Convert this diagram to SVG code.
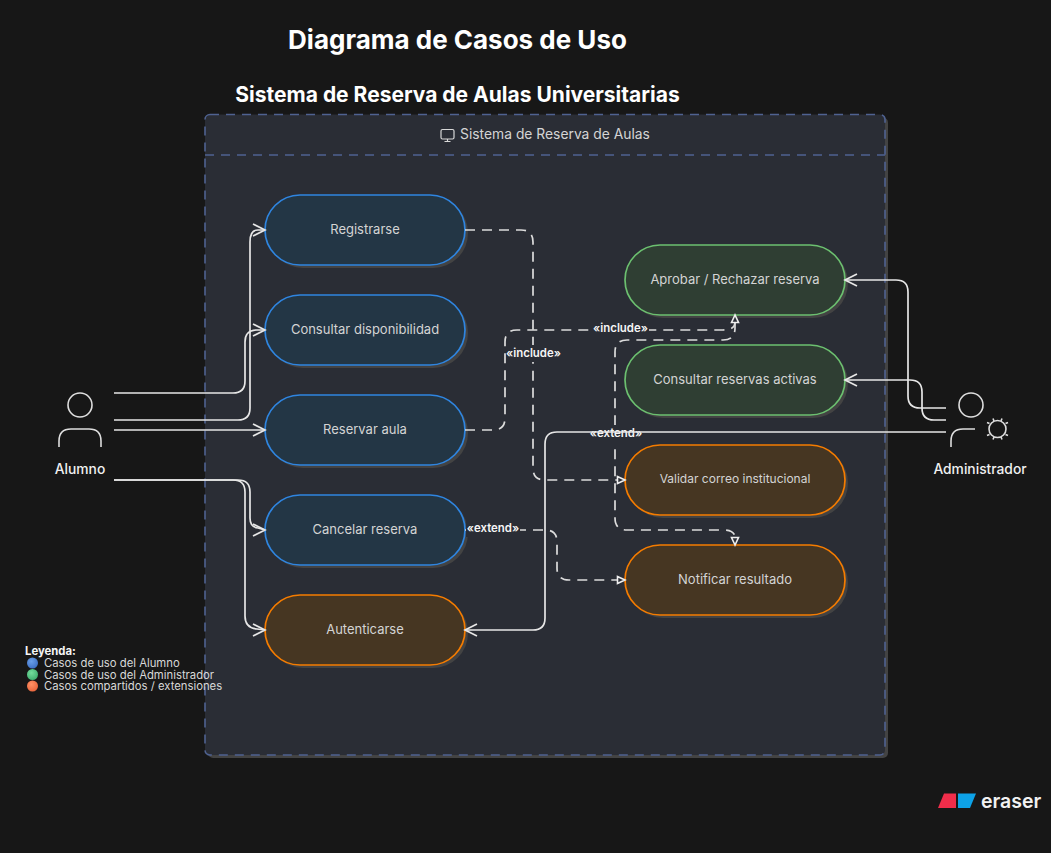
<svg xmlns="http://www.w3.org/2000/svg" width="1051" height="853" viewBox="0 0 1051 853">
<style>
text{font-family:Inter,"Noto Sans","Liberation Sans",sans-serif}
.uc{stroke-width:1.7}
.shadow{fill:#434343}
.blue{fill:#233645;stroke:#2f85e0}
.green{fill:#2f3e33;stroke:#6cc070}
.orange{fill:#463622;stroke:#f57c00}
.t{fill:#d4d4d4;font-size:13px;text-anchor:middle}
.e{fill:none;stroke:#e6e6e6;stroke-width:1.7;stroke-linejoin:round}
.d{fill:none;stroke:#dcdcdc;stroke-width:1.7;stroke-dasharray:10 7}
.lb{fill:#f5f5f5;font-size:11.400px;font-weight:600;text-anchor:middle}
.bg{fill:#2a2d35}
.a{fill:none;stroke:#e6e6e6;stroke-width:1.7}
.tri{fill:#2a2d35;stroke:#eeeeee;stroke-width:1.6}
.act{fill:none;stroke:#dedede;stroke-width:1.6}
.an{fill:#f0f0f0;font-size:13.800px;font-weight:500;text-anchor:middle}
.leg{fill:#d8d8d8;font-size:11.300px}
</style>
<defs>
<radialGradient id="gb" cx=".4" cy=".35" r=".7"><stop offset="0" stop-color="#6a9fe8"/><stop offset="1" stop-color="#3c6fc4"/></radialGradient>
<radialGradient id="gg" cx=".4" cy=".35" r=".7"><stop offset="0" stop-color="#74dc9c"/><stop offset="1" stop-color="#3fae6e"/></radialGradient>
<radialGradient id="go" cx=".4" cy=".35" r=".7"><stop offset="0" stop-color="#ff9166"/><stop offset="1" stop-color="#e8643a"/></radialGradient>
</defs>
<rect width="1051" height="853" fill="#171717"/>
<text x="457.500" y="48.500" text-anchor="middle" font-size="26" font-weight="700" fill="#ffffff">Diagrama de Casos de Uso</text>
<text x="457.500" y="102" text-anchor="middle" font-size="21" font-weight="700" fill="#ffffff">Sistema de Reserva de Aulas Universitarias</text>
<g id="sistema">
<rect x="208" y="117.500" width="680" height="640.500" rx="5" fill="#434343"/>
<rect x="205" y="114.500" width="680" height="640.500" rx="5" fill="#2a2d35" stroke="#4f6291" stroke-width="1.600" stroke-dasharray="9 7"/>
<line x1="205" y1="155" x2="885" y2="155" stroke="#4f6291" stroke-width="1.600" stroke-dasharray="9 7"/>
<g fill="none" stroke="#d8d8d8" stroke-width="1.200"><rect x="441" y="129.500" width="13" height="9.500" rx="1.500"/><path d="M447.500 139v2.500M444.500 141.500h6"/></g>
<text x="555" y="139" text-anchor="middle" font-size="13.850" fill="#d4d4d4">Sistema de Reserva de Aulas</text>
</g>
<g id="uc-registrarse"><rect class="shadow" x="268" y="198" width="200" height="70" rx="35"/><rect class="blue uc" x="265" y="195" width="200" height="70" rx="35"/><text class="t" x="365" y="233.700">Registrarse</text></g>
<g id="uc-consultar"><rect class="shadow" x="268" y="298" width="200" height="70" rx="35"/><rect class="blue uc" x="265" y="295" width="200" height="70" rx="35"/><text class="t" x="365" y="333.700">Consultar disponibilidad</text></g>
<g id="uc-reservar"><rect class="shadow" x="268" y="398" width="200" height="70" rx="35"/><rect class="blue uc" x="265" y="395" width="200" height="70" rx="35"/><text class="t" x="365" y="433.700">Reservar aula</text></g>
<g id="uc-cancelar"><rect class="shadow" x="268" y="498" width="200" height="70" rx="35"/><rect class="blue uc" x="265" y="495" width="200" height="70" rx="35"/><text class="t" x="365" y="533.700">Cancelar reserva</text></g>
<g id="uc-autenticarse"><rect class="shadow" x="268" y="598" width="200" height="70" rx="35"/><rect class="orange uc" x="265" y="595" width="200" height="70" rx="35"/><text class="t" x="365" y="633.700">Autenticarse</text></g>
<g id="uc-aprobar"><rect class="shadow" x="628" y="248" width="220" height="70" rx="35"/><rect class="green uc" x="625" y="245" width="220" height="70" rx="35"/><text class="t" x="735" y="283.700">Aprobar / Rechazar reserva</text></g>
<g id="uc-activas"><rect class="shadow" x="628" y="348" width="220" height="70" rx="35"/><rect class="green uc" x="625" y="345" width="220" height="70" rx="35"/><text class="t" x="735" y="383.700">Consultar reservas activas</text></g>
<g id="uc-validar"><rect class="shadow" x="628" y="448" width="220" height="70" rx="35"/><rect class="orange uc" x="625" y="445" width="220" height="70" rx="35"/><text class="t" x="735" y="483" style="font-size:12px">Validar correo institucional</text></g>
<g id="uc-notificar"><rect class="shadow" x="628" y="548" width="220" height="70" rx="35"/><rect class="orange uc" x="625" y="545" width="220" height="70" rx="35"/><text class="t" x="735" y="583.700">Notificar resultado</text></g>
<g id="connectors">
<path class="d" d="M465 230H521Q533 230 533 242V468Q533 480 545 480H618"/>
<path class="d" d="M465 430H493Q505 430 505 418V342Q505 330 517 330H723Q735 330 735 322"/>
<path class="d" d="M735 322V328Q735 340 723 340H627Q615 340 615 352V518Q615 530 627 530H723Q735 530 735 538"/>
<path class="d" d="M465 530H545Q557 530 557 542V568Q557 580 569 580H618"/>
<path class="tri" d="M625 480L617.500 476.500V483.500Z"/>
<path class="tri" d="M625 580L617.500 576.500V583.500Z"/>
<path class="tri" d="M735 315L731.500 322.500H738.500Z"/>
<path class="tri" d="M735 545L731.500 537.500H738.500Z"/>
<rect class="bg" x="506" y="345" width="56" height="17"/><text class="lb" x="533.500" y="357">«include»</text>
<rect class="bg" x="593" y="320" width="56" height="17"/><text class="lb" x="620.500" y="332">«include»</text>
<rect class="bg" x="589" y="425" width="54" height="19"/><text class="lb" x="616" y="437">«extend»</text>
<rect class="bg" x="466" y="520" width="54" height="17"/><text class="lb" x="493" y="532">«extend»</text>
<path class="e" d="M114 393H233Q245 393 245 381V342Q245 330 257 330H265"/>
<path class="e" d="M114 420H238Q250 420 250 408V242Q250 230 258 230H265"/>
<path class="e" d="M114 430H265"/>
<path class="e" d="M114 480H238Q250 480 250 492V518Q250 527 258 528L265 530"/>
<path class="e" d="M114 480H233Q245 480 245 492V616Q245 628 257 629L265 630"/>
<path class="e" d="M946 408H920Q908 408 908 396V292Q908 280 896 280H845"/>
<path class="e" d="M946 420H934Q922 420 922 408V392Q922 380 910 380H845"/>
<path class="e" d="M946 432H557Q545 432 545 444V618Q545 630 533 630H465"/>
<path class="a" d="M253 224L265 230L253 236M253 324L265 330L253 336M253 424L265 430L253 436M253 524L265 530L253 536M253 624L265 630L253 636M857 274L845 280L857 286M857 374L845 380L857 386M477 624L465 630L477 636"/>
</g>
<g id="alumno"><circle class="act" cx="80" cy="405" r="12"/><path class="act" d="M59 447V441Q59 429 71 429H89Q101 429 101 441V447"/><text class="an" x="80" y="474">Alumno</text></g>
<g id="administrador"><circle class="act" cx="971" cy="405" r="12"/><path class="act" d="M951 447V441Q951 429 963 429H975"/><circle class="act" cx="997.500" cy="429" r="8.500"/><path class="act" d="M1005.500 423.500L1008 422.500M1005.500 434.500L1008 435.500M989.500 423.500L987 422.500M989.500 434.500L987 435.500M994 421L993 418.500M1001 421L1002 418.500M994 437L993 439.500M1001 437L1002 439.500"/><text class="an" x="980" y="474">Administrador</text></g>
<g id="leyenda">
<circle cx="32.500" cy="663" r="5.500" fill="url(#gb)"/>
<circle cx="32.500" cy="674.500" r="5.500" fill="url(#gg)"/>
<circle cx="32.500" cy="686" r="5.500" fill="url(#go)"/>
<text class="leg"><tspan x="25" y="655" font-weight="700" fill="#f5f5f5">Leyenda:</tspan><tspan x="44" y="667">Casos de uso del Alumno</tspan><tspan x="44" y="678.500">Casos de uso del Administrador</tspan><tspan x="44" y="690">Casos compartidos / extensiones</tspan></text>
</g>
<g id="eraser">
<polygon points="944,793.500 956,793.500 956,808 938,808" fill="#f02d4a"/>
<polygon points="958,793.500 976,793.500 970,808 958,808" fill="#0da2e7"/>
<text x="981" y="807.500" font-size="19.500" font-weight="600" fill="#f2f2f2">eraser</text>
</g>
</svg>
